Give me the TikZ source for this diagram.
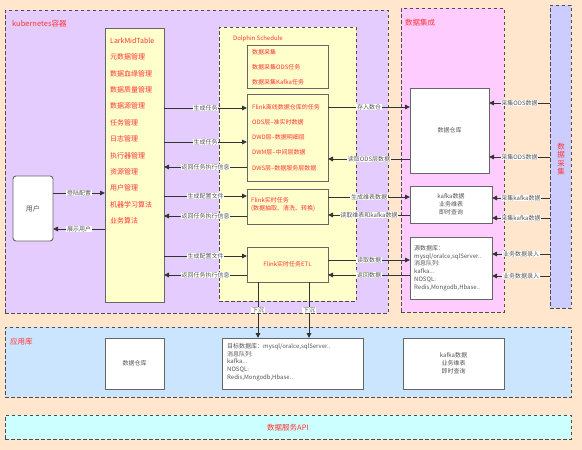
\documentclass[tikz,border=0pt]{standalone}
\usepackage{fontspec}
\setmainfont{Noto Sans CJK SC}
\usetikzlibrary{arrows.meta}
\definecolor{peach}{HTML}{FFE6CC}
\definecolor{lav}{HTML}{E5CCFF}
\definecolor{yel}{HTML}{FFFFCC}
\definecolor{pinkbg}{HTML}{FFCCFF}
\definecolor{colbg}{HTML}{CCCCFF}
\definecolor{appbg}{HTML}{CCE5FF}
\definecolor{apibg}{HTML}{CCFFFF}
\definecolor{redt}{HTML}{FF3333}
\definecolor{dashc}{HTML}{4D4D4D}
\definecolor{boxc}{HTML}{666666}
\definecolor{linec}{HTML}{333333}
\definecolor{lblc}{HTML}{555555}
\newcommand\fsix{\fontsize{6}{7.8}\selectfont}
\newcommand\fseven{\fontsize{7}{8.5}\selectfont}
\newcommand\fcont{\fontsize{7.5}{8.3}\selectfont}
\begin{document}
\begin{tikzpicture}[x=1pt,y=-1pt,
 region/.style={draw=dashc, line width=0.9pt, dash pattern=on 3.5pt off 2.5pt, inner sep=0pt, outer sep=0pt, anchor=north west},
 box/.style={draw=boxc, line width=0.9pt, inner sep=0pt, outer sep=0pt, anchor=north west, fill=white},
 item/.style={anchor=west, text=redt, inner sep=0pt},
 arr/.style={draw=linec, line width=0.9pt, -{Triangle[length=5pt,width=4.5pt]}},
 lbl/.style={fill=white, text=lblc, inner sep=0.6pt, font=\fsix},
 ctitle/.style={text=redt, inner sep=0pt, font=\fcont},
 btext/.style={text=lblc, inner sep=0pt, font=\fsix, align=center}]
\useasboundingbox (0,0) rectangle (582,450);
\fill[peach] (0,0) rectangle (582,450);
% regions
\node[region, fill=lav, minimum width=383pt, minimum height=303pt] (k8s) at (5,10) {};
\node[ctitle, anchor=west] (k8st) at (12,24) {kubernetes容器};
\node[region, fill=yel, minimum width=137pt, minimum height=274pt] (dolphin) at (219,27) {};
\node[ctitle, anchor=west, font=\fsix] (dolt) at (233,39) {Dolphin Schedule};
\node[region, fill=pinkbg, minimum width=103pt, minimum height=304pt] (integ) at (401,8) {};
\node[ctitle, anchor=west] (integt) at (405,23) {数据集成};
\node[region, fill=colbg, minimum width=21pt, minimum height=303pt] (collect) at (550,5) {};
\node[ctitle, align=center] (collectt) at (561,159) {数\\据\\采\\集};
\node[region, fill=appbg, minimum width=566pt, minimum height=70pt] (applib) at (5,327) {};
\node[ctitle, anchor=west] (applibt) at (10,342) {应用库};
\node[region, fill=apibg, minimum width=566pt, minimum height=24pt] (api) at (5,415) {};
\node[ctitle] (apit) at (288,428) {数据服务API};
% boxes
\node[box, fill=yel, minimum width=59pt, minimum height=274pt] (lark) at (105,28) {};
\foreach \t [count=\i] in {LarkMidTable,元数据管理,数据血缘管理,数据质量管理,数据源管理,任务管理,日志管理,执行器管理,资源管理,用户管理,机器学习算法,业务算法}
  \node[item, font=\fseven] (lk\i) at (110,{40.7+16.4*(\i-1)}) {\t};
\node[box, rounded corners=3pt, minimum width=40pt, minimum height=65pt] (user) at (13,176) {};
\node[btext, font=\fseven] (usert) at (user.center) {用户};
\node[box, fill=yel, minimum width=81pt, minimum height=43pt] (collectbox) at (247,45) {};
\foreach \t [count=\i] in {数据采集,数据采集ODS任务,数据采集Kafka任务}
  \node[item, font=\fsix] (cb\i) at (252,{52+15*(\i-1)}) {\t};
\node[box, fill=yel, minimum width=81pt, minimum height=87pt] (flinkoff) at (247,94) {};
\foreach \t [count=\i] in {Flink离线数据仓库的任务,ODS层--准实时数据,DWD层--数据明细层,DWM层--中间层数据,DWS层--数据服务层数据}
  \node[item, font=\fsix] (fo\i) at (252,{107+15.2*(\i-1)}) {\t};
\node[box, fill=yel, minimum width=81pt, minimum height=35pt] (flinkrt) at (247,189) {};
\node[item, anchor=north west, align=left, font=\fsix] (flinkrtt) at (251,197) {Flink实时任务\\(数据抽取、清洗、转换)};
\node[box, fill=yel, minimum width=81pt, minimum height=35pt] (etl) at (247,247) {};
\node[item, anchor=center, font=\fsix] (etlt) at (etl.center) {Flink实时任务ETL};
\node[box, minimum width=79pt, minimum height=85pt] (dw) at (410,88) {};
\node[btext] (dwt) at (dw.center) {数据仓库};
\node[box, minimum width=82pt, minimum height=37pt] (kafka) at (410,186) {};
\node[btext] (kafkat) at (kafka.center) {kafka数据\\业务维表\\即时查询};
\node[box, minimum width=82pt, minimum height=62pt] (srcdb) at (410,237) {};
\node[btext, anchor=north west, align=left] (srcdbt) at (414,245) {源数据库：\\mysql/oralce,sqlServer..\\消息队列:\\kafka...\\NOSQL:\\Redis,Mongodb,Hbase..\\.};
\node[box, minimum width=59pt, minimum height=51pt] (appdw) at (105,338) {};
\node[btext] (appdwt) at (appdw.center) {数据仓库};
\node[box, minimum width=141pt, minimum height=51pt] (tgt) at (222,338) {};
\node[btext, anchor=north west, align=left] (tgtt) at (227,343) {目标数据库：mysql/oralce,sqlServer..\\消息队列:\\kafka...\\NOSQL:\\Redis,Mongodb,Hbase..};
\node[box, minimum width=101pt, minimum height=51pt] (appkafka) at (403,338) {};
\node[btext] (appkafkat) at (appkafka.center) {kafka数据\\业务维表\\即时查询};
% connectors
\draw[arr] (user.east |- 0,193) -- node[lbl]{登陆配置} (lark.west |- 0,193);
\draw[arr] (lark.west |- 0,229) -- node[lbl]{展示用户} (user.east |- 0,229);
\draw[arr] (lark.east |- 0,108) -- node[lbl]{生成任务} (flinkoff.west |- 0,108);
\draw[arr] (lark.east |- 0,142) -- node[lbl]{生成任务} (flinkoff.west |- 0,142);
\draw[arr] (flinkoff.west |- 0,167) -- node[lbl]{返回任务执行信息} (lark.east |- 0,167);
\draw[arr] (lark.east |- 0,196) -- node[lbl]{生成配置文件} (flinkrt.west |- 0,196);
\draw[arr] (flinkrt.west |- 0,216) -- node[lbl]{返回任务执行信息} (lark.east |- 0,216);
\draw[arr] (lark.east |- 0,256) -- node[lbl]{生成配置文件} (etl.west |- 0,256);
\draw[arr] (etl.west |- 0,275) -- node[lbl]{返回任务执行信息} (lark.east |- 0,275);
\draw[arr] (flinkoff.east |- 0,107) -- node[lbl]{存入数仓} (dw.west |- 0,107);
\draw[arr] (dw.west |- 0,159) -- node[lbl]{读取ODS层数据} (flinkoff.east |- 0,159);
\draw[arr] (flinkrt.east |- 0,197) -- node[lbl]{生成维表数据} (kafka.west |- 0,197);
\draw[arr] (kafka.west |- 0,215) -- node[lbl]{读取维表和kafka数据} (flinkrt.east |- 0,215);
\draw[arr] (etl.east |- 0,260) -- node[lbl]{读取数据} (srcdb.west |- 0,260);
\draw[arr] (srcdb.west |- 0,275) -- node[lbl]{返回数据} (etl.east |- 0,275);
\draw[arr] (etl.south -| 258,0) -- node[lbl]{下沉} (tgt.north -| 258,0);
\draw[arr] (etl.south -| 309,0) -- node[lbl]{下沉} (tgt.north -| 309,0);
\draw[arr] (collect.west |- 0,103) -- node[lbl]{采集ODS数据} (dw.east |- 0,103);
\draw[arr] (collect.west |- 0,157) -- node[lbl]{采集ODS数据} (dw.east |- 0,157);
\draw[arr] (collect.west |- 0,198) -- node[lbl]{采集kafka数据} (kafka.east |- 0,198);
\draw[arr] (collect.west |- 0,218) -- node[lbl]{采集kafka数据} (kafka.east |- 0,218);
\draw[arr] (collect.west |- 0,254) -- node[lbl]{业务数据录入} (srcdb.east |- 0,254);
\draw[arr] (collect.west |- 0,276) -- node[lbl]{业务数据录入} (srcdb.east |- 0,276);
\end{tikzpicture}
\end{document}
